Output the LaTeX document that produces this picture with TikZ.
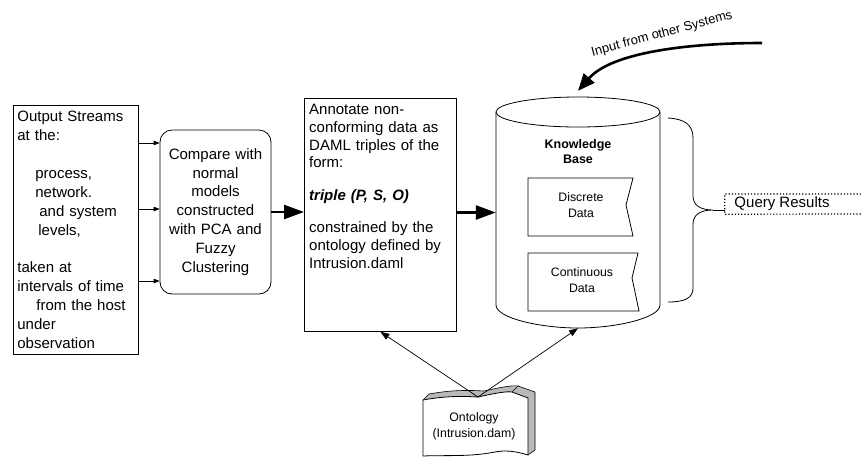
\documentclass[tikz,border=0pt]{standalone}
\usepackage{fontspec}
\setmainfont{Liberation Sans}
\usetikzlibrary{arrows.meta}
\begin{document}
\begin{tikzpicture}[x=1pt,y=-1pt,
  box/.style={draw=black,line width=0.8pt,inner sep=0pt},
  bigfont/.style={font=\fontsize{15}{18.9}\selectfont},
  smallfont/.style={font=\fontsize{12.3}{16}\selectfont},
  thinarrow/.style={draw=black,line width=0.8pt,-{Triangle[length=6pt,width=4.5pt]}},
  midarrow/.style={draw=black,line width=0.7pt,-{Triangle[length=9pt,width=6.5pt]}},
  bigarrow/.style={draw=black,line width=2.6pt,-{Triangle[length=20pt,width=14pt]}},
  shapeline/.style={draw=black,line width=0.8pt},
  querydots/.style={draw=black,line width=1.2pt,dotted}
]
\useasboundingbox (0,0) rectangle (861,456);

% ---------- left box: output streams
\node[box,anchor=north west,minimum width=125pt,minimum height=249pt,
      text width=117pt,inner xsep=4pt,align=left,bigfont] (streams) at (13,105)
  {Output Streams\\
   at the:\\
   \mbox{}\\
   \hspace*{18pt}process,\\
   \hspace*{18pt}network.\\
   \hspace*{22pt}and system\\
   \hspace*{21pt}levels,\\
   \mbox{}\\
   taken at\\
   intervals of time\\
   \hspace*{19pt}from the host\\
   under\\
   observation};

% ---------- compare box
\node[box,rounded corners=12pt,minimum width=111pt,minimum height=164pt,
      text width=105pt,align=center,bigfont] (compare) at (215.5,212)
  {Compare with\\normal\\models\\constructed\\with PCA and\\Fuzzy\\Clustering};

\coordinate (ya) at (0,143);
\coordinate (yb) at (0,209);
\coordinate (yc) at (0,281);
\draw[thinarrow] (streams.east |- ya) -- (compare.west |- ya);
\draw[thinarrow] (streams.east |- yb) -- (compare.west |- yb);
\draw[thinarrow] (streams.east |- yc) -- (compare.west |- yc);

% ---------- annotate box
\node[box,anchor=north west,minimum width=152pt,minimum height=233pt] (annot) at (304,98) {};
\node[anchor=north west,text width=142pt,inner sep=0pt,align=left,
      font=\fontsize{15}{17.8}\selectfont] (annottext) at (309,104)
  {Annotate non-\\
   conforming data as\\
   DAML triples of the\\
   form:\\[15pt]
   \textbf{\textit{triple (P, S, O)}}\\[14pt]
   constrained by the\\
   ontology defined by\\
   Intrusion.daml};

\draw[bigarrow] (compare.east) -- (annot.west |- compare.east);

% ---------- knowledge base cylinder
\node[minimum width=164pt,minimum height=231pt,inner sep=0pt] (kb) at (578,212.5) {};
\draw[shapeline] (496,112) -- (496,305)
   .. controls (496,318) and (540,328) .. (578,328)
   .. controls (616,328) and (660,318) .. (660,305) -- (660,112);
\draw[shapeline] (578,112) ellipse [x radius=82pt,y radius=15pt];

\node[font=\bfseries\fontsize{12.5}{15}\selectfont,align=center] (kbtitle) at (578,152) {Knowledge\\Base};

\draw[shapeline] (528,178) -- (633,178) -- (626,205) -- (633,236) -- (528,236) -- cycle;
\node[smallfont,align=center] (discrete) at (581,205) {Discrete\\Data};

\draw[shapeline] (528,253) -- (638,253) -- (632,278) -- (639,311) -- (528,311) -- cycle;
\node[smallfont,align=center] (continuous) at (582,280) {Continuous\\Data};

\draw[bigarrow] (annot.east |- kb.west) -- (kb.west);

% ---------- input from other systems
\coordinate (inputstart) at (762,43);
\draw[draw=black,line width=2.6pt,-{Triangle[length=17pt,width=14pt]}]
   (inputstart) .. controls (690,43) and (612,52) .. ([yshift=6pt]kb.north);
\node[font=\fontsize{13}{15}\selectfont,rotate=15] (inputlabel) at (662,34) {Input from other Systems};

% ---------- brace and query results
\coordinate (bracetip) at (713,210);
\draw[shapeline] (668,118) .. controls (685,119) and (693,125) .. (693,138)
   -- (693,196) .. controls (693,205) and (700,210) .. (bracetip)
   .. controls (700,210) and (693,215) .. (693,224)
   -- (693,288) .. controls (693,298) and (685,302) .. (668,302);

\node[font=\fontsize{15}{18}\selectfont,minimum width=114pt,minimum height=20pt,inner sep=0pt] (query) at (782,204) {Query Results};
\draw[querydots] (861,194) -| (query.south west) -- (861,214);
\draw[shapeline] (bracetip) -- (query.west |- bracetip);

% ---------- ontology document
\coordinate (ontotop) at (478,397);
\fill[gray!55] (423,400) -- (429,394)
   .. controls (451,390) and (468,390) .. (484,391)
   .. controls (498,388) and (511,385) .. (518,386) -- (535,392)
   -- (535,450) -- (528,455) -- (528,398) -- (512,392)
   .. controls (505,391) and (492,394) .. (ontotop)
   .. controls (462,396) and (445,396) .. (423,400) -- cycle;
\draw[shapeline,line width=0.6pt] (423,400) -- (429,394)
   .. controls (451,390) and (468,390) .. (484,391)
   .. controls (498,388) and (511,385) .. (518,386) -- (535,392) -- (535,450) -- (528,455);
\draw[shapeline,line width=0.6pt] (512,392) -- (518,386);
\draw[shapeline,fill=white] (423,400) .. controls (445,396) and (462,396) .. (ontotop)
   .. controls (492,394) and (505,391) .. (512,392) -- (528,398) -- (528,455)
   .. controls (515,451) and (505,450) .. (495,452)
   .. controls (470,457) and (445,455) .. (423,456) -- cycle;
\node[smallfont,align=center] (onto) at (474,426) {Ontology\\(Intrusion.dam)};

\draw[midarrow] (ontotop) -- (annot.south);
\draw[midarrow] (ontotop) -- (kb.south);
\end{tikzpicture}
\end{document}
